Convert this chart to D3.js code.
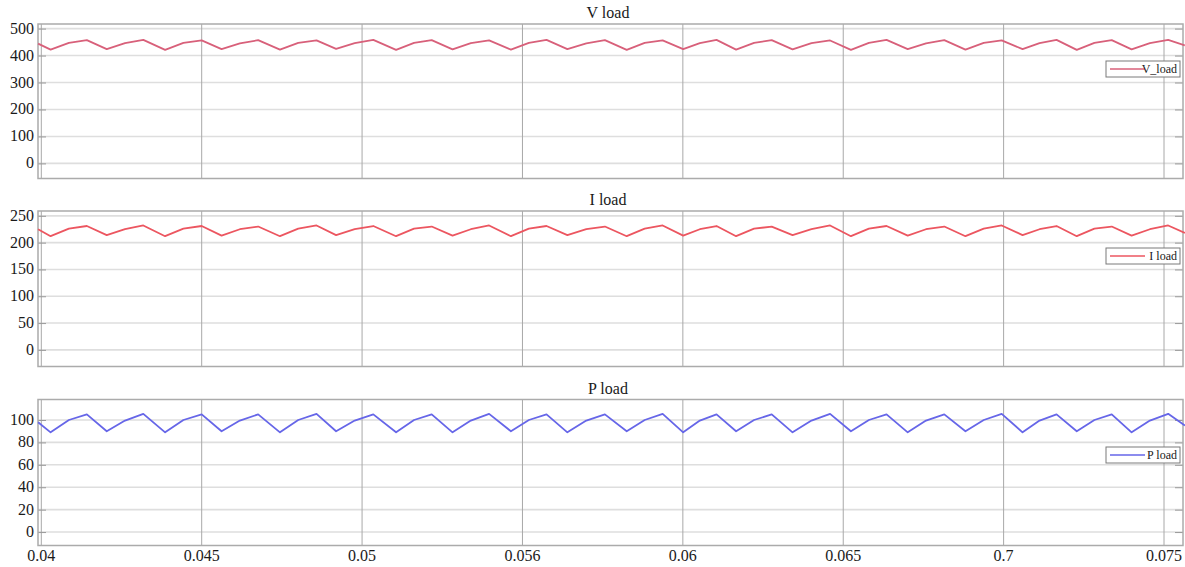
<!DOCTYPE html>
<html>
<head>
<meta charset="utf-8">
<script src="https://cdn.jsdelivr.net/npm/d3@7"></script>
<style>
  html, body { margin: 0; padding: 0; background: #ffffff; }
  svg { display: block; }
  svg text { font-family: "Liberation Serif", "DejaVu Serif", "Noto Serif", serif; }
</style>
</head>
<body>
<div id="chart"></div>
<script>
// Time samples (s): start, then trough / mid-rise / peak of each ripple, then end
const times = [
  0.03990,
  0.04029, 0.04086, 0.04142,
  0.04204, 0.04261, 0.04318,
  0.04386, 0.04443, 0.04500,
  0.04562, 0.04619, 0.04676,
  0.04744, 0.04801, 0.04858,
  0.04919, 0.04977, 0.05035,
  0.05106, 0.05162, 0.05217,
  0.05282, 0.05339, 0.05396,
  0.05464, 0.05520, 0.05575,
  0.05640, 0.05699, 0.05757,
  0.05825, 0.05881, 0.05937,
  0.06001, 0.06053, 0.06105,
  0.06166, 0.06222, 0.06277,
  0.06342, 0.06401, 0.06459,
  0.06524, 0.06580, 0.06635,
  0.06701, 0.06758, 0.06815,
  0.06881, 0.06938, 0.06994,
  0.07059, 0.07112, 0.07165,
  0.07228, 0.07283, 0.07337,
  0.07399, 0.07456, 0.07513,
  0.07565,
];

const vLoad = [
  444,
  422, 447, 457,  424, 446, 458,  421, 447, 456,  424, 445, 457,
  422, 447, 456,  425, 446, 458,  421, 447, 457,  423, 446, 456,
  422, 447, 458,  424, 445, 457,  421, 447, 456,  424, 446, 458,
  422, 447, 457,  423, 446, 456,  421, 447, 458,  424, 445, 457,
  422, 447, 456,  424, 446, 458,  421, 447, 457,  423, 446, 458,
  438,
];

const iLoad = [
  225,
  212, 226, 231,  214, 225, 232,  212, 226, 231,  213, 225, 230,
  212, 226, 232,  214, 225, 231,  212, 226, 230,  213, 225, 232,
  212, 226, 231,  214, 225, 230,  212, 226, 232,  213, 225, 231,
  212, 226, 230,  214, 225, 232,  212, 226, 231,  213, 225, 230,
  212, 226, 232,  214, 225, 231,  212, 226, 230,  213, 225, 232,
  218,
];

const pLoad = [
  98,
  89, 100, 105,  90, 99.5, 105.5,  89, 100, 105,  90, 99.5, 105,
  89, 100, 105.5,  90, 99.5, 105,  89, 100, 105,  89, 99.5, 105.5,
  90, 100, 105,  89, 99.5, 105,  90, 100, 105.5,  89, 99.5, 105,
  90, 100, 105,  89, 99.5, 105.5,  90, 100, 105,  89, 99.5, 105,
  90, 100, 105.5,  89, 99.5, 105,  90, 100, 105,  89, 99.5, 105.5,
  95,
];

// Axis ticks
const xTicks = [0.04, 0.045, 0.05, 0.055, 0.06, 0.065, 0.07, 0.075];
const xTickLabels = ['0.04', '0.045', '0.05', '0.056', '0.06', '0.065', '0.7', '0.075'];
const vTicks = [0, 100, 200, 300, 400, 500];
const iTicks = [0, 50, 100, 150, 200, 250];
const pTicks = [0, 20, 40, 60, 80, 100];

const W = 1185;
const H = 567;
const left = 38;
const right = 1183;

const panels = [
  { title: 'V load', legend: 'V_load', values: vLoad, ticks: vTicks, domain: [-56, 517],
    top: 24, bottom: 178.5, color: '#d8607a', legendY: 61 },
  { title: 'I load', legend: 'I load', values: iLoad, ticks: iTicks, domain: [-31, 259],
    top: 211, bottom: 366.5, color: '#ec5660', legendY: 248 },
  { title: 'P load', legend: 'P load', values: pLoad, ticks: pTicks, domain: [-12, 118.3],
    top: 399.5, bottom: 545.5, color: '#6666e8', legendY: 447 },
];

const svg = d3
  .select('#chart')
  .append('svg')
  .attr('width', W)
  .attr('height', H);

svg.append('rect').attr('width', W).attr('height', H).attr('fill', '#ffffff');

const x = d3.scaleLinear().domain([0.039897, 0.075592]).range([left, right]);

panels.forEach((p, pi) => {
  const y = d3.scaleLinear().domain(p.domain).range([p.bottom, p.top]);
  const g = svg.append('g');

  // Horizontal grid
  g.append('g')
    .selectAll('line')
    .data(p.ticks)
    .enter()
    .append('line')
    .attr('x1', left)
    .attr('x2', right)
    .attr('y1', (d) => y(d))
    .attr('y2', (d) => y(d))
    .attr('stroke', '#dedede')
    .attr('stroke-width', 1.6);

  // Vertical grid
  g.append('g')
    .selectAll('line')
    .data(xTicks)
    .enter()
    .append('line')
    .attr('x1', (d) => x(d))
    .attr('x2', (d) => x(d))
    .attr('y1', p.top)
    .attr('y2', p.bottom)
    .attr('stroke', '#a8a8a8')
    .attr('stroke-width', 1);

  // Inner tick marks, left and right
  const yAxis = g
    .append('g')
    .attr('transform', `translate(${left},0)`)
    .call(d3.axisRight(y).tickValues(p.ticks).tickSize(8).tickFormat(''));
  yAxis.selectAll('line').attr('stroke', '#9a9a9a');
  yAxis.select('.domain').remove();

  const yAxisR = g
    .append('g')
    .attr('transform', `translate(${right},0)`)
    .call(d3.axisLeft(y).tickValues(p.ticks).tickSize(8).tickFormat(''));
  yAxisR.selectAll('line').attr('stroke', '#9a9a9a');
  yAxisR.select('.domain').remove();

  // Tick labels
  g.append('g')
    .selectAll('text')
    .data(p.ticks)
    .enter()
    .append('text')
    .attr('x', left - 4)
    .attr('y', (d) => y(d) + 5)
    .attr('text-anchor', 'end')
    .attr('font-size', '16px')
    .attr('fill', '#1a1a1a')
    .text((d) => d);

  // Frame
  g.append('rect')
    .attr('x', left)
    .attr('y', p.top)
    .attr('width', right - left)
    .attr('height', p.bottom - p.top)
    .attr('fill', 'none')
    .attr('stroke', '#ababab')
    .attr('stroke-width', 1.5);

  // Signal
  const line = d3
    .line()
    .x((d, i) => x(times[i]))
    .y((d) => y(d));

  g.append('path')
    .datum(p.values)
    .attr('fill', 'none')
    .attr('stroke', p.color)
    .attr('stroke-width', 1.8)
    .attr('stroke-linejoin', 'round')
    .attr('d', line);

  // Title
  svg.append('text')
    .attr('x', 608)
    .attr('y', p.top - 6)
    .attr('text-anchor', 'middle')
    .attr('font-size', '16px')
    .attr('fill', '#1a1a1a')
    .text(p.title);

  // Legend
  const lg = g.append('g').attr('transform', `translate(1106,${p.legendY})`);
  lg.append('rect')
    .attr('width', 74)
    .attr('height', 16)
    .attr('fill', '#ffffff')
    .attr('stroke', '#7a7a7a')
    .attr('stroke-width', 1);
  lg.append('line')
    .attr('x1', 4)
    .attr('x2', 39)
    .attr('y1', 8)
    .attr('y2', 8)
    .attr('stroke', p.color)
    .attr('stroke-width', 1.6);
  lg.append('text')
    .attr('x', 71)
    .attr('y', 12)
    .attr('text-anchor', 'end')
    .attr('font-size', '12px')
    .attr('fill', '#1a1a1a')
    .text(p.legend);

  // X axis labels on the bottom panel only
  if (pi === panels.length - 1) {
    svg.append('g')
      .selectAll('text')
      .data(xTicks)
      .enter()
      .append('text')
      .attr('x', (d) => x(d))
      .attr('y', 561)
      .attr('text-anchor', 'middle')
      .attr('font-size', '16px')
      .attr('fill', '#1a1a1a')
      .text((d, i) => xTickLabels[i]);
  }
});
</script>
</body>
</html>
